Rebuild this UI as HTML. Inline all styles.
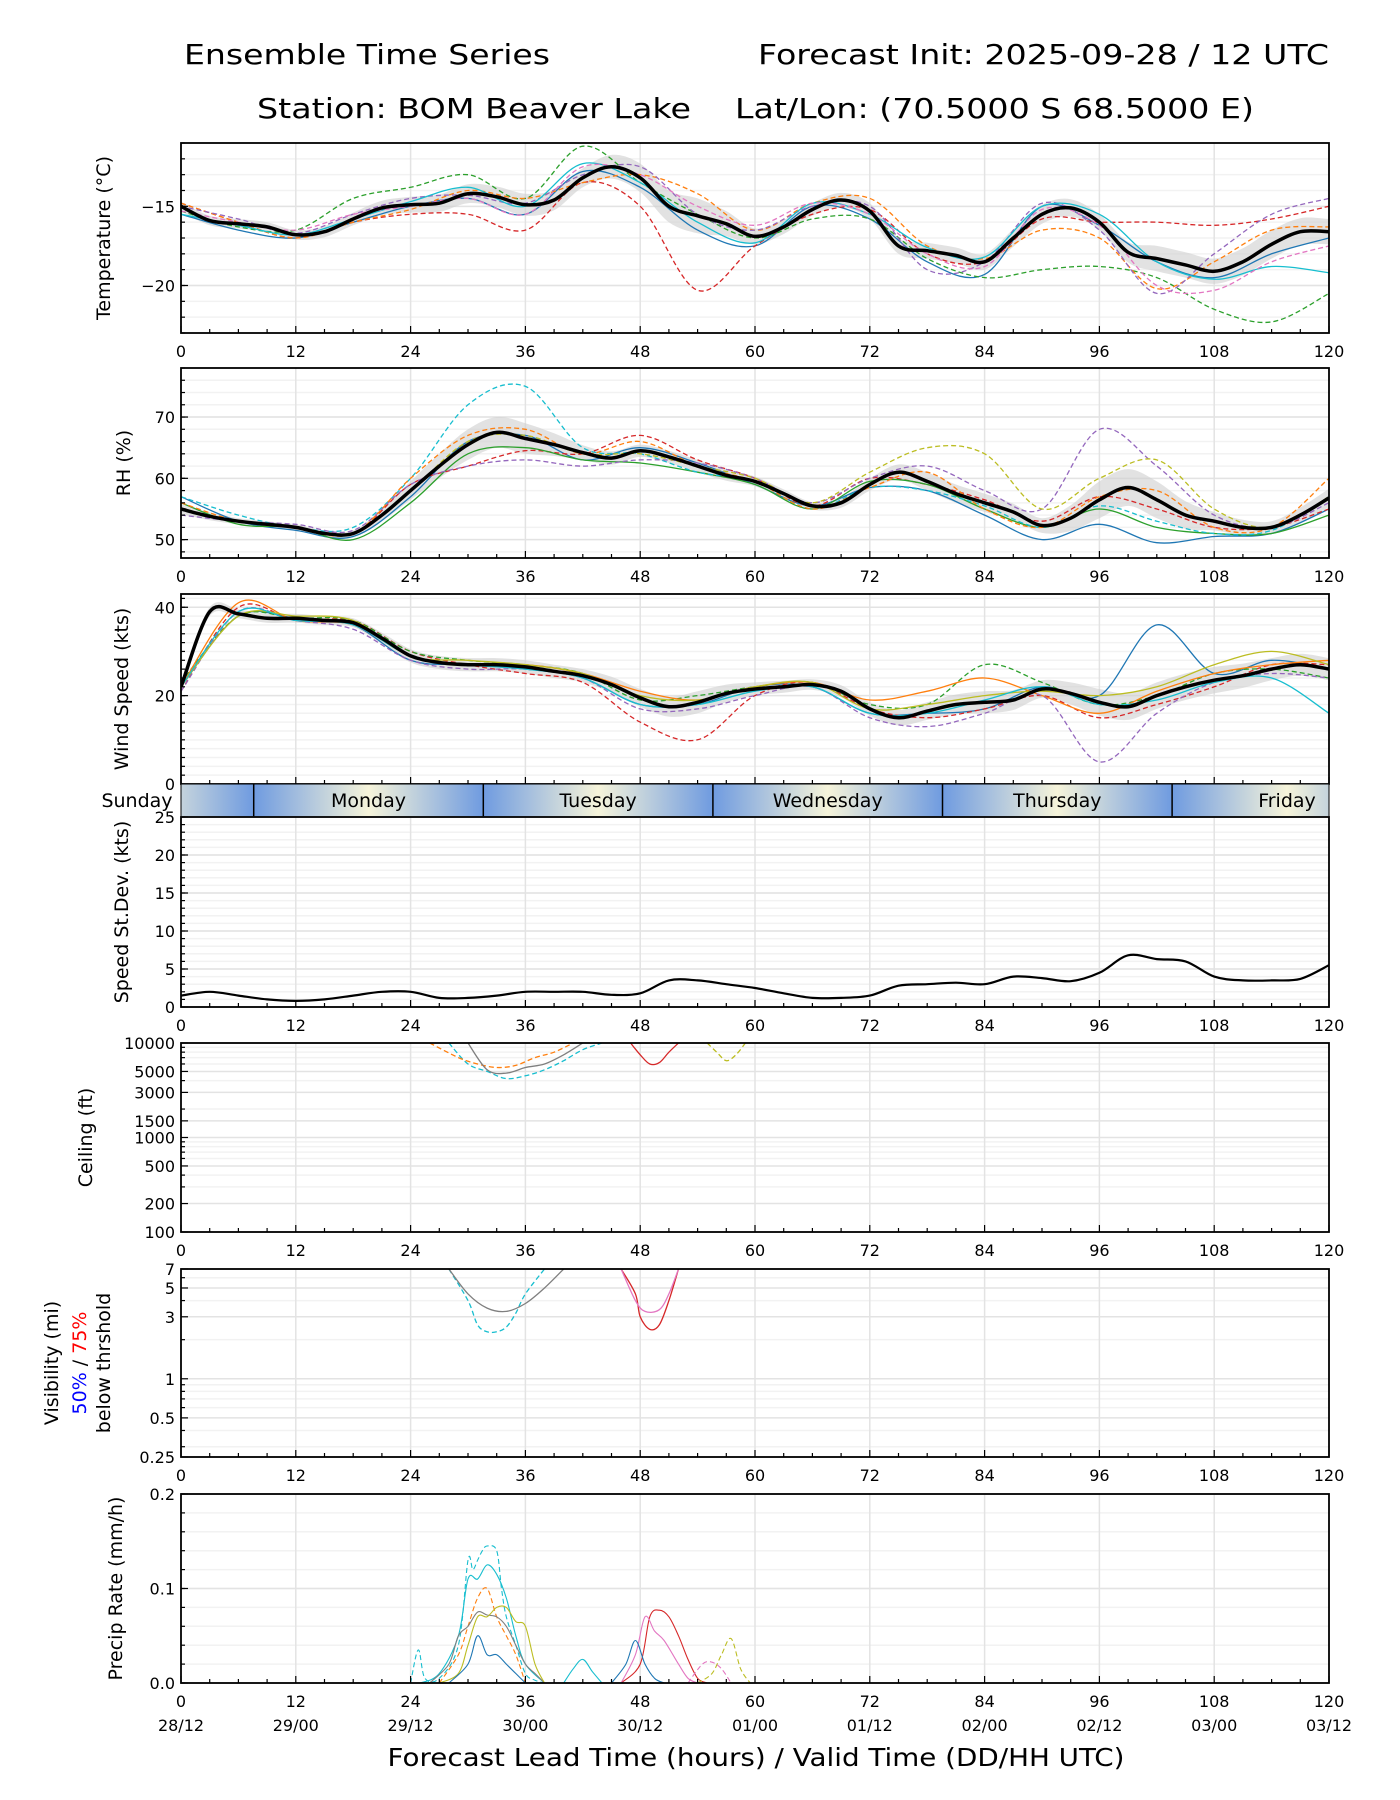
<!DOCTYPE html>
<html><head><meta charset="utf-8"><style>
html,body{margin:0;padding:0;background:#fff;}
svg{display:block;font-family:"DejaVu Sans","Liberation Sans",sans-serif;}
</style></head><body>
<svg id="chart" width="1400" height="1800" viewBox="0 0 1400 1800" xmlns="http://www.w3.org/2000/svg">
<text x="184" y="64" font-size="28" textLength="366" lengthAdjust="spacingAndGlyphs">Ensemble Time Series</text>
<text x="1329" y="64" font-size="28" text-anchor="end" textLength="571" lengthAdjust="spacingAndGlyphs">Forecast Init: 2025-09-28 / 12 UTC</text>
<text x="257" y="118" font-size="28" textLength="434" lengthAdjust="spacingAndGlyphs">Station: BOM Beaver Lake</text>
<text x="735" y="118" font-size="28" textLength="519" lengthAdjust="spacingAndGlyphs">Lat/Lon: (70.5000 S 68.5000 E)</text>
<text x="756" y="1766" font-size="25" text-anchor="middle" textLength="737" lengthAdjust="spacingAndGlyphs">Forecast Lead Time (hours) / Valid Time (DD/HH UTC)</text>
</svg>
<script>
// ---------- data ----------
const hours3 = [0,3,6,9,12,15,18,21,24,27,30,33,36,39,42,45,48,51,54,57,60,63,66,69,72,75,78,81,84,87,90,93,96,99,102,105,108,111,114,117,120];
const hours6 = [0,6,12,18,24,30,36,42,48,54,60,66,72,78,84,90,96,102,108,114,120];
const xTicks = [0,12,24,36,48,60,72,84,96,108,120];
const dateLabels = ["28/12","29/00","29/12","30/00","30/12","01/00","01/12","02/00","02/12","03/00","03/12"];
const dayNames = ["Sunday","Monday","Tuesday","Wednesday","Thursday","Friday"];
const dayBoundaries = [7.6,31.6,55.6,79.6,103.6];

const tempMean = [-15.0,-15.9,-16.1,-16.3,-16.8,-16.6,-15.8,-15.1,-14.9,-14.8,-14.2,-14.4,-14.9,-14.6,-13.2,-12.5,-13.2,-15.0,-15.6,-16.1,-16.9,-16.3,-15.2,-14.6,-15.3,-17.5,-17.8,-18.1,-18.5,-17.0,-15.5,-15.1,-16.0,-17.9,-18.3,-18.7,-19.1,-18.5,-17.4,-16.6,-16.6];
const tempSpread = [0.3,0.3,0.3,0.4,0.5,0.6,0.7,0.6,0.9,1.1,0.5,0.4,0.5,0.5,0.5,0.6,0.5,0.8,0.8,0.9,0.8];
const tempM1 = [-15.5,-16.5,-17,-16,-15,-14.5,-15.5,-12.8,-13.8,-16.5,-17.5,-15,-15.8,-18.5,-19.3,-15,-16.2,-18.5,-19.5,-18,-17];
const tempM2 = [-14.8,-16,-17,-16,-15.5,-15.5,-16.5,-13.5,-15,-20.3,-17.5,-15.5,-15.2,-18,-18.5,-15.8,-16,-16,-16.2,-15.8,-15];
const tempM3 = [-15.3,-16.3,-16.5,-14.5,-13.8,-13,-14.5,-11.2,-13.5,-15.5,-17,-15.8,-15.8,-18.3,-19.5,-19,-18.8,-19.5,-21.5,-22.3,-20.5];
const tempM4 = [-14.8,-16,-17,-16,-15.2,-14,-14.5,-13.5,-13,-14.2,-16.5,-14.8,-14.5,-17.5,-18.3,-16.5,-17,-20.2,-18.5,-16.5,-16.3];
const tempM5 = [-15,-15.8,-16.7,-15.5,-14.5,-14.3,-14.8,-13,-12.5,-15.5,-16.5,-15,-15,-19,-18.5,-14.8,-16.5,-20.5,-18,-15.5,-14.5];
const tempM6 = [-15.5,-16.2,-16.8,-15.8,-14.7,-13.8,-15,-12.3,-13.5,-16,-17.3,-14.8,-15.5,-17.6,-18.2,-15,-15.5,-18.5,-19.6,-18.8,-19.2];
const tempM7 = [-15.3,-16,-16.5,-15.5,-15,-14.5,-15.5,-12.5,-13,-15,-16.2,-14.8,-15.5,-18,-18.8,-15.2,-16.2,-20,-20.3,-18.5,-17.5];

const rhMean = [55,53.8,53,52.5,52,51,51,54,58,62,65.5,67.5,66.5,65.5,64.2,63.3,64.5,63.5,62,60.5,59.5,57.5,55.5,56,59,61,59.5,57.5,56,54.5,52.3,53.5,56.5,58.5,56.5,54,53,52,52,54,56.8];
const rhSpread = [0.8,0.5,0.5,0.5,1.5,2.5,2.5,1.2,1,1,0.8,0.6,1,1.5,1.5,1.2,3,3,1.5,1,1.5];
const rhM1 = [57,53,51.5,50.5,57,66,67,63,65,62.5,59,55.5,58.5,58,54,50,52.5,49.5,50.5,51,55];
const rhM2 = [55,53,52,51,59,62,64.5,64,67,63,60,55.5,60,59,56.5,53,57,55,52,52,55];
const rhM3 = [56,52.5,52,50,56,64,65,63,62.5,61,59,55,59.5,59,55,52,55,52,51,51,54];
const rhM4 = [57,54,52,52,60,72,75,65,64,61,59.5,55,58.5,58,55.5,52,55.5,53,51,51.5,57];
const rhM5 = [54,53,52.5,51.5,59,62,63,62,63,62.5,60,56,60,62,58,55,68,62,54,52,56];
const rhM6 = [55,53,52,51,58,66,67,64,64,62,60,56,61,65,64,55,60,63,55,52,57];
const rhM7 = [56,53,52,51,60,67,68,64,66,62,59.5,55,58.5,61,55,52,57,58,52,52,60];

const windMean = [22,39,38.5,37.5,37.5,37,36.5,33,29,27.5,27,27,26.5,25.5,24.5,22.5,19.5,17.5,18.5,20.5,21.5,22,22.5,21,17,15,16.5,18,18.5,19,21.5,20.5,18.5,17.5,20,22,23.5,24.5,26,27,26];
const windSpread = [1,1,1,1,1.5,1.5,1.5,1.5,2,2.5,1.5,1.2,1.5,2,2.5,2,3,3,3,2.5,2.5];
const windM1 = [22,38,37.5,36,28,27,26,24,18,18,22,22,16,16,17,22,20,36,25,28,26];
const windM2 = [21,40,37,37,30,27,25,23,14,10,20,23,17,15,17,20,15,18,22,27,27];
const windM3 = [23,38,37.5,37,30,28,27,25,19,20,22,23,18,18,27,23,18,20,25,26,24];
const windM4 = [22,41,37,36,29,27,27,25,21,19,22,23,19,21,24,20,16,21,25,27,28];
const windM5 = [21,39,37,35,28,26,26,24,17,17,20,22,15,13,16,20,5,16,23,25,24];
const windM6 = [22,38,38,37,29,28,27,25,20,19,22,23,17,18,20,21,20,22,27,30,27];
const windM7 = [22,39,37,36,29,27,26,24,18,18,21,22,16,16,19,22,18,19,23,24,16];

const stdDev = [1.5,2,1.5,1,0.8,1,1.5,2,2,1.2,1.2,1.5,2,2,2,1.6,1.8,3.5,3.5,3,2.5,1.8,1.2,1.2,1.5,2.8,3,3.2,3,4,3.8,3.4,4.5,6.8,6.3,6,4,3.5,3.5,3.7,5.5];

const ceilAH = [28,30,32,34,36,38,40,42,44];
const ceilAV = [10000,6000,5000,4200,4500,5200,6500,8500,10000];
const ceilBH = [26,29,31,33,35,37,39,41];
const ceilBV = [10000,7000,6000,5500,5800,7000,8000,10000];
const ceilCH = [47,48,49,50,51,52];
const ceilCV = [10000,7500,6000,6200,8000,10000];
const ceilDH = [55,56,57,58,59];
const ceilDV = [10000,8000,6500,7500,10000];
const ceilEH = [30,32,34,36,38,40,42];
const ceilEV = [10000,5200,4800,5500,6000,7500,10000];

const visAH = [28,30,31,32,33,34,35,36,38];
const visAV = [7,4,2.6,2.3,2.3,2.5,3.2,4.5,7];
const visBH = [28,30,32,34,36,38,40];
const visBV = [7,4.5,3.5,3.3,3.8,5,7];
const visCH = [46,47.5,48,49,50,51,52];
const visCV = [7,4.5,3,2.4,2.6,4,7];
const visDH = [46,47.5,48.5,50,51,52];
const visDV = [7,4,3.3,3.4,4.5,7];

const prCyanDH = [24,24.8,25.5,27,29,30,30.5,31,31.5,32,33,33.5,34,35,36,37,38];
const prCyanDV = [0,0.035,0.005,0.005,0.04,0.13,0.12,0.13,0.14,0.145,0.14,0.1,0.07,0.04,0.01,0.003,0];
const prCyanH = [25,27,29,30,31,32,33,34,35,36,38];
const prCyanV = [0,0.01,0.05,0.11,0.11,0.125,0.115,0.09,0.05,0.02,0];
const prOrangeH = [27,29,30,31,32,33,34,35,36];
const prOrangeV = [0,0.03,0.06,0.09,0.1,0.07,0.05,0.03,0];
const prGreyH = [26,28,29,30,31,32,33,34,35,36,37,38];
const prGreyV = [0,0.02,0.05,0.06,0.075,0.072,0.07,0.06,0.04,0.02,0.01,0];
const prOliveH = [27,29,30,31,32,33,34,35,36,37,38];
const prOliveV = [0,0.01,0.04,0.07,0.07,0.08,0.08,0.065,0.06,0.02,0];
const prBlueH = [28,30,31,32,33,34,35,36];
const prBlueV = [0,0.02,0.05,0.03,0.03,0.02,0.01,0];
const prRedH = [46,48,49,50,51,52,53,54,55];
const prRedV = [0,0.02,0.07,0.077,0.07,0.05,0.025,0.005,0];
const prPinkH = [46,47.5,48.5,49.5,50.5,52,53,54];
const prPinkV = [0,0.03,0.07,0.055,0.045,0.02,0.005,0];
const prBlue2H = [45,46.5,47.5,48.5,49.5,50.5];
const prBlue2V = [0,0.02,0.045,0.02,0.005,0];
const prOlive2H = [54,55.5,56.5,57.5,58.5,59.5];
const prOlive2V = [0,0.01,0.03,0.047,0.015,0];
const prPink2H = [53,54.5,55.5,56.5,57.5];
const prPink2V = [0,0.02,0.022,0.015,0];
const prCyan2H = [40,41,42,43,44];
const prCyan2V = [0,0.015,0.025,0.012,0];

// ---------- helpers ----------
const NS = "http://www.w3.org/2000/svg";
const svg = document.getElementById('chart');
const X0 = 181, X1 = 1329;
const xs = h => X0 + h / 120 * (X1 - X0);
const C = {blue:'#1f77b4',orange:'#ff7f0e',green:'#2ca02c',red:'#d62728',purple:'#9467bd',brown:'#8c564b',pink:'#e377c2',grey:'#7f7f7f',olive:'#bcbd22',cyan:'#17becf'};
function mk(tag, attrs, parent) {
  const e = document.createElementNS(NS, tag);
  for (const k in attrs) e.setAttribute(k, attrs[k]);
  (parent || svg).appendChild(e);
  return e;
}
function smooth(pts) {
  if (!pts.length) return '';
  let d = 'M' + pts[0][0].toFixed(1) + ',' + pts[0][1].toFixed(1);
  for (let i = 0; i < pts.length - 1; i++) {
    const p0 = pts[i - 1] || pts[i], p1 = pts[i], p2 = pts[i + 1], p3 = pts[i + 2] || p2;
    const c1x = p1[0] + (p2[0] - p0[0]) / 6, c1y = p1[1] + (p2[1] - p0[1]) / 6;
    const c2x = p2[0] - (p3[0] - p1[0]) / 6, c2y = p2[1] - (p3[1] - p1[1]) / 6;
    d += 'C' + c1x.toFixed(1) + ',' + c1y.toFixed(1) + ' ' + c2x.toFixed(1) + ',' + c2y.toFixed(1) + ' ' + p2[0].toFixed(1) + ',' + p2[1].toFixed(1);
  }
  return d;
}
let clipN = 0;
function panel(name, top, bot, yTicks, yLabels, yMinor, ys, opts) {
  const g = mk('g', {});
  
  
  const id = 'clip' + (clipN++);
  const cp = mk('clipPath', {id: id}, g);
  mk('rect', {x: X0, y: top, width: X1 - X0, height: bot - top}, cp);
  yMinor.forEach(v => { const y = ys(v); if (y > top && y < bot) mk('line', {x1: X0, x2: X1, y1: y, y2: y, stroke: '#f2f2f2', 'stroke-width': 1.5}, g); });
  xTicks.forEach(h => { if (h > 0 && h < 120) mk('line', {x1: xs(h), x2: xs(h), y1: top, y2: bot, stroke: '#e3e3e3', 'stroke-width': 1.5}, g); });
  yTicks.forEach(v => { const y = ys(v); mk('line', {x1: X0, x2: X1, y1: y, y2: y, stroke: '#e3e3e3', 'stroke-width': 1.5}, g); });
  const plot = mk('g', {'clip-path': 'url(#' + id + ')'}, g);
  for (let h = 0; h <= 120; h += 3) {
    const len = h % 12 === 0 ? 7 : 4;
    mk('line', {x1: xs(h), x2: xs(h), y1: bot, y2: bot - len, stroke: '#000', 'stroke-width': 1.2}, g);
  }
  yMinor.forEach(v => { const y = ys(v); if (y >= top && y <= bot) mk('line', {x1: X0, x2: X0 + 4, y1: y, y2: y, stroke: '#000', 'stroke-width': 1.2}, g); });
  yTicks.forEach((v, i) => {
    const y = ys(v);
    mk('line', {x1: X0, x2: X0 + 7, y1: y, y2: y, stroke: '#000', 'stroke-width': 1.2}, g);
    const t = mk('text', {x: X0 - 6, y: y + 6, 'font-size': 16, 'text-anchor': 'end'}, g);
    
    
    t.textContent = yLabels[i];
  });
  if (!opts.noXLabels) {
    xTicks.forEach(h => {
      const t = mk('text', {x: xs(h), y: bot + 24, 'font-size': 16, 'text-anchor': 'middle'}, g);
      
      
      t.textContent = h;
    });
  }
  if (opts.ylabel) {
    const cy = (top + bot) / 2;
    const t = mk('text', {x: 0, y: 0, 'font-size': 19, 'text-anchor': 'middle', transform: 'translate(' + opts.ylx + ',' + cy + ') rotate(-90)'}, g);
    
    
    t.textContent = opts.ylabel;
  }
  return {g: g, plot: plot, top: top, bot: bot, border: () => {
    const r = mk('rect', {x: X0, y: top, width: X1 - X0, height: bot - top, fill: 'none', stroke: '#000', 'stroke-width': 1.8}, g);
    
    
  }};
}
function range(a, b, s) { const r = []; for (let v = a; v <= b + 1e-9; v += s) r.push(+v.toFixed(4)); return r; }
function member(P, hs, vals, ys, color, dashed, nm, w) {
  const p = mk('path', {d: smooth(hs.map((h, i) => [xs(h), ys(vals[i])])), fill: 'none', stroke: color, 'stroke-width': w || 1.3, 'stroke-dasharray': dashed ? '5,3' : 'none'}, P.plot);
  
  
}
function band(P, mean, spread, ys, nm) {
  const up = [], lo = [];
  hours3.forEach((h, i) => {
    const k = Math.min(Math.floor(h / 6), 19), f = (h - hours6[k]) / 6;
    const s = spread[k] * (1 - f) + spread[k + 1] * f;
    up.push([xs(h), ys(mean[i] + s)]); lo.push([xs(h), ys(mean[i] - s)]);
  });
  const d = smooth(up) + 'L' + smooth(lo.reverse()).slice(1) + 'Z';
  const p = mk('path', {d: d, fill: '#cfcfcf', 'fill-opacity': 0.6, stroke: 'none'}, P.plot);
  
  
}
function meanLine(P, vals, ys, nm, w) {
  const p = mk('path', {d: smooth(hours3.map((h, i) => [xs(h), ys(vals[i])])), fill: 'none', stroke: '#000', 'stroke-width': w || 3.5}, P.plot);
  
  
}

// ---------- temperature ----------
(function(){
  const top = 143, bot = 333, lo = -23, hi = -11;
  const ys = v => bot - (v - lo) / (hi - lo) * (bot - top);
  const P = panel('temperature', top, bot, [-20, -15], ['\u221220', '\u221215'], range(-23, -11, 1), ys, {ylabel: 'Temperature (\u00b0C)', ylx: 110});
  band(P, tempMean, tempSpread, ys, 'temperature-spread-band');
  [[tempM1, C.blue, 0], [tempM2, C.red, 1], [tempM3, C.green, 1], [tempM4, C.orange, 1], [tempM5, C.purple, 1], [tempM6, C.cyan, 0], [tempM7, C.pink, 1]]
    .forEach((m, i) => member(P, hours6, m[0], ys, m[1], m[2], 'temperature-member-' + (i + 1)));
  meanLine(P, tempMean, ys, 'temperature-ensemble-mean');
  P.border();
})();

// ---------- RH ----------
(function(){
  const top = 368, bot = 558, lo = 47, hi = 78;
  const ys = v => bot - (v - lo) / (hi - lo) * (bot - top);
  const P = panel('rh', top, bot, [50, 60, 70], ['50', '60', '70'], range(48, 78, 2), ys, {ylabel: 'RH (%)', ylx: 130});
  band(P, rhMean, rhSpread, ys, 'rh-spread-band');
  [[rhM1, C.blue, 0], [rhM2, C.red, 1], [rhM3, C.green, 0], [rhM4, C.cyan, 1], [rhM5, C.purple, 1], [rhM6, C.olive, 1], [rhM7, C.orange, 1]]
    .forEach((m, i) => member(P, hours6, m[0], ys, m[1], m[2], 'rh-member-' + (i + 1)));
  meanLine(P, rhMean, ys, 'rh-ensemble-mean');
  P.border();
})();

// ---------- wind ----------
(function(){
  const top = 594, bot = 784, lo = 0, hi = 43;
  const ys = v => bot - (v - lo) / (hi - lo) * (bot - top);
  const P = panel('wind-speed', top, bot, [0, 20, 40], ['0', '20', '40'], range(0, 42, 2), ys, {ylabel: 'Wind Speed (kts)', ylx: 128, noXLabels: true});
  band(P, windMean, windSpread, ys, 'wind-spread-band');
  [[windM1, C.blue, 0], [windM2, C.red, 1], [windM3, C.green, 1], [windM4, C.orange, 0], [windM5, C.purple, 1], [windM6, C.olive, 0], [windM7, C.cyan, 0]]
    .forEach((m, i) => member(P, hours6, m[0], ys, m[1], m[2], 'wind-member-' + (i + 1)));
  meanLine(P, windMean, ys, 'wind-ensemble-mean');
  P.border();
})();

// ---------- day band ----------
(function(){
  const top = 784, bot = 817;
  const g = mk('g', {});
  
  
  const defs = mk('defs', {}, g);
  const lg = mk('linearGradient', {id: 'dayGrad', x1: 0, x2: 1, y1: 0, y2: 0}, defs);
  mk('stop', {offset: '0', 'stop-color': '#6f9be0'}, lg);
  mk('stop', {offset: '0.5', 'stop-color': '#f6f4da'}, lg);
  mk('stop', {offset: '1', 'stop-color': '#6f9be0'}, lg);
  const edges = [-16.4].concat(dayBoundaries).concat([127.6]);
  for (let i = 0; i < edges.length - 1; i++) {
    const a = Math.max(edges[i], 0), b = Math.min(edges[i + 1], 120);
    const full0 = xs(edges[i]), full1 = xs(edges[i + 1]);
    const cp = mk('clipPath', {id: 'dclip' + i}, defs);
    mk('rect', {x: xs(a), y: top, width: xs(b) - xs(a), height: bot - top}, cp);
    const r = mk('rect', {x: full0, y: top, width: full1 - full0, height: bot - top, fill: 'url(#dayGrad)', 'clip-path': 'url(#dclip' + i + ')'}, g);
    
    
    const cx = i === 0 ? 137 : (i === 5 ? 1287 : (full0 + full1) / 2);
    const t = mk('text', {x: cx, y: top + 23, 'font-size': 19, 'text-anchor': 'middle'}, g);
    
    
    t.textContent = dayNames[i];
  }
  dayBoundaries.forEach(h => mk('line', {x1: xs(h), x2: xs(h), y1: top, y2: bot, stroke: '#000', 'stroke-width': 1.5}, g));
  mk('rect', {x: X0, y: top, width: X1 - X0, height: bot - top, fill: 'none', stroke: '#000', 'stroke-width': 1}, g);
})();

// ---------- std dev ----------
(function(){
  const top = 817, bot = 1007, lo = 0, hi = 25;
  const ys = v => bot - (v - lo) / (hi - lo) * (bot - top);
  const P = panel('speed-stdev', top, bot, [0, 5, 10, 15, 20, 25], ['0', '5', '10', '15', '20', '25'], range(0, 25, 1), ys, {ylabel: 'Speed St.Dev. (kts)', ylx: 128});
  meanLine(P, stdDev, ys, 'speed-stdev-line', 2.2);
  P.border();
})();

// ---------- ceiling ----------
(function(){
  const top = 1043, bot = 1232;
  const ys = v => bot - (Math.log10(v) - 2) / 2 * (bot - top);
  const P = panel('ceiling', top, bot, [100, 200, 500, 1000, 1500, 3000, 5000, 10000], ['100', '200', '500', '1000', '1500', '3000', '5000', '10000'], [300, 400, 600, 700, 800, 900, 2000, 4000, 6000, 7000, 8000, 9000], ys, {ylabel: 'Ceiling (ft)', ylx: 92});
  [[ceilAH, ceilAV, C.cyan, 1], [ceilBH, ceilBV, C.orange, 1], [ceilCH, ceilCV, C.red, 0], [ceilDH, ceilDV, C.olive, 1], [ceilEH, ceilEV, C.grey, 0]]
    .forEach((m, i) => member(P, m[0], m[1], ys, m[2], m[3], 'ceiling-member-' + (i + 1)));
  P.border();
})();

// ---------- visibility ----------
(function(){
  const top = 1269, bot = 1457;
  const lmin = Math.log10(0.25), lmax = Math.log10(7);
  const ys = v => bot - (Math.log10(v) - lmin) / (lmax - lmin) * (bot - top);
  const P = panel('visibility', top, bot, [0.25, 0.5, 1, 3, 5, 7], ['0.25', '0.5', '1', '3', '5', '7'], [0.3, 0.4, 0.6, 0.7, 0.8, 0.9, 2, 4, 6], ys, {});
  [[visAH, visAV, C.cyan, 1], [visBH, visBV, C.grey, 0], [visCH, visCV, C.red, 0], [visDH, visDV, C.pink, 0]]
    .forEach((m, i) => member(P, m[0], m[1], ys, m[2], m[3], 'visibility-member-' + (i + 1)));
  P.border();
  const cy = (top + bot) / 2;
  const t1 = mk('text', {'font-size': 19, 'text-anchor': 'middle', transform: 'translate(58,' + cy + ') rotate(-90)'});
  
  
  t1.textContent = 'Visibility (mi)';
  const t2 = mk('text', {'font-size': 19, 'text-anchor': 'middle', transform: 'translate(86,' + cy + ') rotate(-90)'});
  
  
  t2.innerHTML = '<tspan fill="#0000ff">50%</tspan> / <tspan fill="#ff0000">75%</tspan>';
  const t3 = mk('text', {'font-size': 19, 'text-anchor': 'middle', transform: 'translate(110,' + cy + ') rotate(-90)'});
  
  
  t3.textContent = 'below thrshold';
})();

// ---------- precip ----------
(function(){
  const top = 1494, bot = 1683, lo = 0, hi = 0.2;
  const ys = v => bot - (v - lo) / (hi - lo) * (bot - top);
  const P = panel('precip', top, bot, [0, 0.1, 0.2], ['0.0', '0.1', '0.2'], range(0, 0.2, 0.02), ys, {ylabel: 'Precip Rate (mm/h)', ylx: 122});
  [[prCyanDH, prCyanDV, C.cyan, 1], [prCyanH, prCyanV, C.cyan, 0], [prOrangeH, prOrangeV, C.orange, 1], [prGreyH, prGreyV, C.grey, 0], [prOliveH, prOliveV, C.olive, 0], [prBlueH, prBlueV, C.blue, 0], [prRedH, prRedV, C.red, 0], [prPinkH, prPinkV, C.pink, 0], [prBlue2H, prBlue2V, C.blue, 0], [prOlive2H, prOlive2V, C.olive, 1], [prPink2H, prPink2V, C.pink, 1], [prCyan2H, prCyan2V, C.cyan, 0]]
    .forEach((m, i) => member(P, m[0], m[1], ys, m[2], m[3], 'precip-member-' + (i + 1), 1.1));
  P.border();
  xTicks.forEach((h, i) => {
    const t = mk('text', {x: xs(h), y: bot + 48, 'font-size': 16, 'text-anchor': 'middle'});
    
    
    t.textContent = dateLabels[i];
  });
})();
</script>
</body></html>
